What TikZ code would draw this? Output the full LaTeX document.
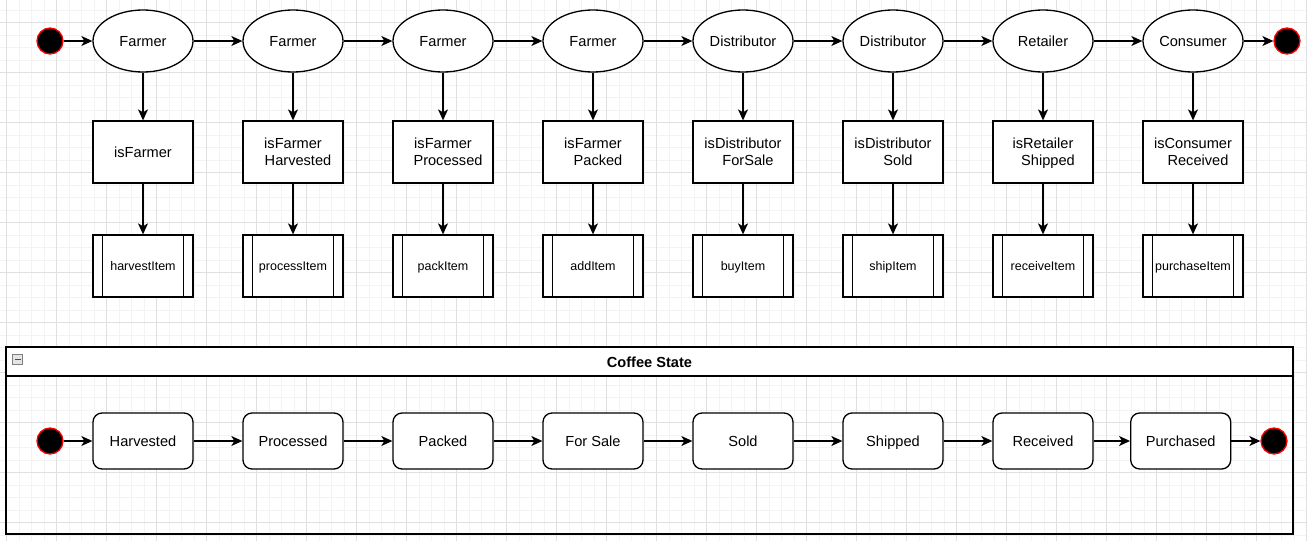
\documentclass[tikz,border=0pt]{standalone}
\usepackage{fontspec}
\setmainfont{Liberation Sans}
\usetikzlibrary{shapes.geometric,arrows.meta}
\definecolor{gridminor}{RGB}{243,243,243}
\definecolor{gridmajor}{RGB}{224,224,224}
\newcommand\mystrut{\rule[-3.5pt]{0pt}{17pt}}
\newcommand\secondline{\\\hspace*{10pt}}
\tikzset{
  base/.style={draw=black, line width=1.3pt, fill=white, inner sep=0pt, text=black},
  actor/.style={base, ellipse, minimum width=100pt, minimum height=62pt, text height=12pt, text depth=2pt, font=\fontsize{14.6}{17}\selectfont},
  guard/.style={base, rectangle, minimum width=100pt, minimum height=62pt, align=center, font=\fontsize{14.6}{17}\selectfont},
  procbox/.style={base, rectangle, minimum width=100pt, minimum height=62pt, text height=10.5pt, text depth=1.5pt, font=\fontsize{12.5}{15}\selectfont},
  statebox/.style={base, rectangle, rounded corners=9pt, minimum width=100pt, minimum height=56pt, text height=12pt, text depth=2pt, font=\fontsize{14.6}{17}\selectfont},
  terminal/.style={circle, draw=red, fill=black, line width=1.3pt, minimum size=26pt, inner sep=0pt},
  flow/.style={-{Stealth[length=11pt,width=10pt,inset=3pt]}, line width=1.3pt, draw=black},
  minorline/.style={draw=gridminor, line width=1pt},
  majorline/.style={draw=gridmajor, line width=1pt},
  lane/.style={draw=black, line width=1.3pt}
}
\begin{document}
\begin{tikzpicture}[x=1pt,y=-1pt]
% background and grid
\fill[white] (0,0) rectangle (1307,541);
\useasboundingbox (0,0) rectangle (1307,541);
\foreach \i in {0,...,104} {\pgfmathsetmacro\xx{6.5+12.5*\i}\draw[minorline] (\xx,0) -- (\xx,541);}
\foreach \i in {0,...,42} {\pgfmathsetmacro\yy{10+12.5*\i}\draw[minorline] (0,\yy) -- (1307,\yy);}
\foreach \i in {0,...,26} {\pgfmathsetmacro\xx{6.5+50*\i}\draw[majorline] (\xx,0) -- (\xx,541);}
\foreach \i in {0,...,10} {\pgfmathsetmacro\yy{22.5+50*\i}\draw[majorline] (0,\yy) -- (1307,\yy);}

% top row
\node[terminal] (s1) at (50,41) {};
\node[terminal] (e1) at (1287,41) {};
\foreach \i/\t in {1/Farmer,2/Farmer,3/Farmer,4/Farmer,5/Distributor,6/Distributor,7/Retailer,8/Consumer}
  \node[actor] (a\i) at ({143+150*(\i-1)},41) {\t};
\foreach \i/\t in {1/{\mystrut isFarmer},
                   2/{\mystrut isFarmer\secondline\mystrut Harvested},
                   3/{\mystrut isFarmer\secondline\mystrut Processed},
                   4/{\mystrut isFarmer\secondline\mystrut Packed},
                   5/{\mystrut isDistributor\secondline\mystrut ForSale},
                   6/{\mystrut isDistributor\secondline\mystrut Sold},
                   7/{\mystrut isRetailer\secondline\mystrut Shipped},
                   8/{\mystrut isConsumer\secondline\mystrut Received}}
  \node[guard] (b\i) at ({143+150*(\i-1)},152) {\t};
\foreach \i/\t in {1/harvestItem,2/processItem,3/packItem,4/addItem,5/buyItem,6/shipItem,7/receiveItem,8/purchaseItem}
  \node[procbox] (p\i) at ({143+150*(\i-1)},266) {\t};
\foreach \i in {1,...,8} {
  \draw[line width=1.3pt] ([xshift=10pt]p\i.north west) -- ([xshift=10pt]p\i.south west);
  \draw[line width=1.3pt] ([xshift=-10pt]p\i.north east) -- ([xshift=-10pt]p\i.south east);
  \draw[flow] (a\i) -- (b\i);
  \draw[flow] (b\i) -- (p\i);
}
\draw[flow] (s1) -- (a1);
\foreach \i [evaluate=\i as \j using int(\i+1)] in {1,...,7}
  \draw[flow] (a\i) -- (a\j);
\draw[flow] (a8) -- (e1);

% coffee state lane
\draw[lane, fill=white] (6,347) rectangle (1293,376);
\draw[lane] (6,376) -- (6,534) -- (1293,534) -- (1293,376);
\node[font=\bfseries\fontsize{14.6}{17}\selectfont, text height=11pt, text depth=1pt, inner sep=0pt] (lanetitle) at (649.5,362) {Coffee State};
\draw[draw=gray, fill=gray!20, line width=0.8pt] (12.5,354.5) rectangle (22.5,364.5);
\draw[draw=black!70, line width=1pt] (14.5,359.5) -- (20.5,359.5);

\node[terminal] (s2) at (50,441) {};
\node[terminal] (e2) at (1274,441) {};
\foreach \i/\t in {1/Harvested,2/Processed,3/Packed,4/For Sale,5/Sold,6/Shipped,7/Received}
  \node[statebox] (c\i) at ({143+150*(\i-1)},441) {\t};
\node[statebox] (c8) at (1180.7,441) {Purchased};
\draw[flow] (s2) -- (c1);
\foreach \i [evaluate=\i as \j using int(\i+1)] in {1,...,7}
  \draw[flow] (c\i) -- (c\j);
\draw[flow] (c8) -- (e2);
\end{tikzpicture}
\end{document}
